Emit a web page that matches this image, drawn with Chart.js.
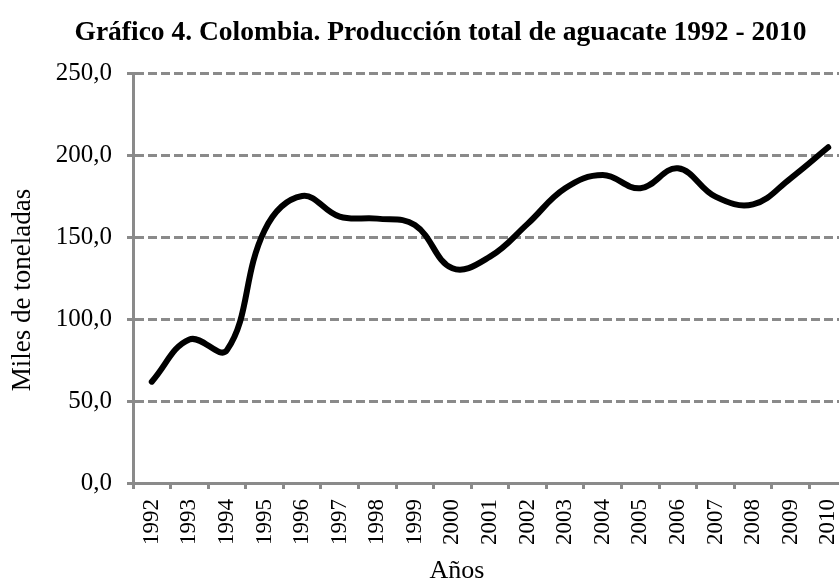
<!DOCTYPE html>
<html>
<head>
<meta charset="utf-8">
<script src="https://cdn.jsdelivr.net/npm/chart.js@4.4.0/dist/chart.umd.min.js"></script>
<style>
html,body{margin:0;padding:0;background:#fff;overflow:hidden;width:839px;height:583px;}
#wrap{position:absolute;left:0;top:0;width:876px;height:583px;}
</style>
</head>
<body>
<div id="wrap"><canvas id="c" width="876" height="583"></canvas></div>
<script>
const years = ["1992","1993","1994","1995","1996","1997","1998","1999","2000","2001","2002","2003","2004","2005","2006","2007","2008","2009","2010"];
const production = [61.8, 87.5, 81, 154, 175, 162.4, 161.2, 157.3, 130.9, 138, 158, 179.7, 187.8, 179.7, 191.9, 174.6, 169.9, 185.8, 204.7];
const yTicks = [0, 50, 100, 150, 200, 250];
const xTitle = 'Años';
const yTitle = 'Miles de toneladas';

const serif = "'Liberation Serif','Times New Roman',serif";
const gray = '#8a8a8a';

const axisTitles = {
  id: 'axisTitles',
  afterDraw(chart) {
    const ctx = chart.ctx;
    const a = chart.chartArea;
    ctx.save();
    ctx.fillStyle = '#000';
    ctx.textAlign = 'center';
    ctx.textBaseline = 'middle';
    ctx.font = "26px " + serif;
    ctx.fillText(xTitle, a.left + 324, chart.height - 12);
    ctx.translate(23, (a.top + a.bottom) / 2 + 12);
    ctx.rotate(-Math.PI / 2);
    ctx.font = "27px " + serif;
    ctx.fillText(yTitle, 0, 0);
    ctx.restore();
  }
};

new Chart(document.getElementById('c'), {
  type: 'line',
  data: {
    labels: years,
    datasets: [{
      data: production,
      borderColor: '#000',
      borderWidth: 6,
      tension: 0.4,
      pointRadius: 0,
      fill: false,
      borderCapStyle: 'round',
      borderJoinStyle: 'round'
    }]
  },
  plugins: [axisTitles],
  options: {
    responsive: false,
    animation: false,
    layout: { padding: { left: 34, right: 29, top: 0, bottom: 0 } },
    plugins: {
      legend: { display: false },
      tooltip: { enabled: false },
      title: {
        display: true,
        text: 'Gráfico 4. Colombia. Producción total de aguacate 1992 - 2010',
        color: '#000',
        font: { family: serif, size: 27.5, weight: 'bold' },
        padding: { top: 16, bottom: 24 }
      }
    },
    scales: {
      x: {
        offset: true,
        grid: { display: true, drawOnChartArea: false, offset: true, color: gray, lineWidth: 3, tickLength: 6 },
        border: { color: gray, width: 3 },
        ticks: { color: '#000', font: { family: serif, size: 23 }, maxRotation: 90, minRotation: 90, padding: 10, autoSkip: false },
        afterFit: s => { s.height = 100; }
      },
      y: {
        min: 0, max: 250,
        afterBuildTicks: s => { s.ticks = yTicks.map(v => ({ value: v })); },
        grid: { color: gray, lineWidth: 3, tickLength: 6, tickColor: gray },
        border: { color: gray, width: 3, dash: [9, 4] },
        ticks: {
          color: '#000', font: { family: serif, size: 25 }, padding: 15,
          callback: v => v.toFixed(1).replace('.', ',')
        },
        afterFit: s => { s.width = 99; }
      }
    }
  }
});
</script>
</body>
</html>
